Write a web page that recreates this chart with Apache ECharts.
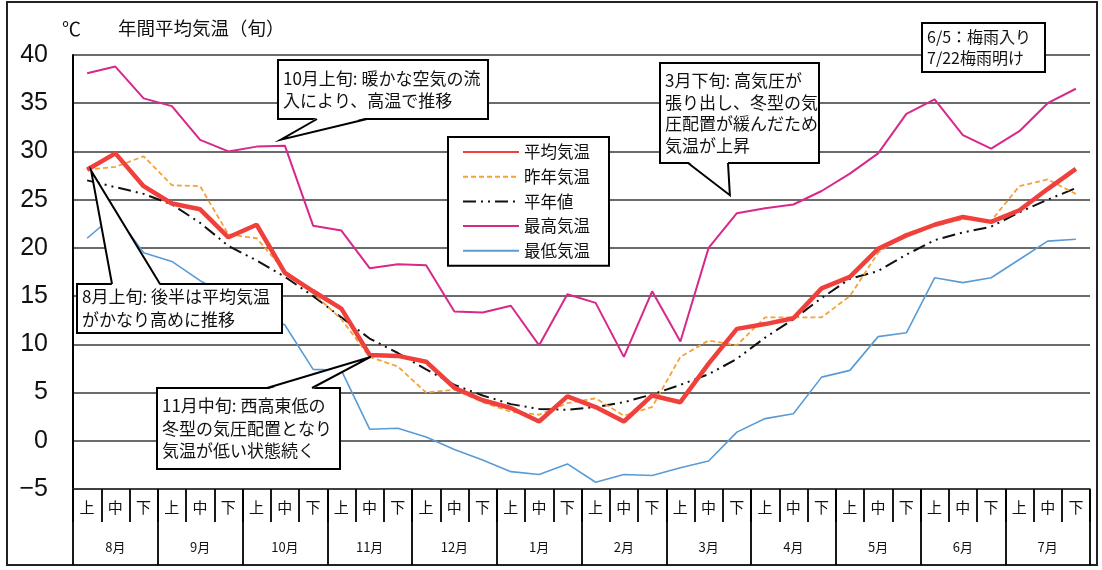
<!DOCTYPE html>
<html>
<head>
<meta charset="utf-8">
<script src="https://cdn.jsdelivr.net/npm/echarts@6/dist/echarts.min.js"></script>
<style>
  html, body { margin: 0; padding: 0; background: #fff; }
  #main { width: 1102px; height: 570px; }
</style>
</head>
<body>
<div id="main"></div>
<script>
// 旬ごとの気温 (8月上旬 〜 7月下旬)
var months = ['8月', '9月', '10月', '11月', '12月', '1月', '2月', '3月', '4月', '5月', '6月', '7月'];
var junLabels = ['上', '中', '下'];

var avgTemp = [28.1, 29.8, 26.4, 24.6, 24.0, 21.1, 22.4, 17.4, 15.5, 13.7, 8.9, 8.8,
  8.2, 5.5, 4.2, 3.4, 2.0, 4.6, 3.5, 2.0, 4.7, 4.0, 8.0, 11.6,
  12.1, 12.7, 15.8, 17.0, 19.9, 21.3, 22.4, 23.2, 22.7, 23.9, 26.1, 28.2];
var lastYear = [28.1, 28.4, 29.5, 26.5, 26.4, 21.4, 21.0, 17.6, 15.3, 12.6, 8.7, 7.7,
  5.0, 5.3, 4.0, 3.0, 2.7, 3.9, 4.4, 2.6, 3.5, 8.7, 10.4, 9.9,
  12.8, 12.8, 12.8, 15.0, 19.5, 21.5, 22.3, 23.0, 22.8, 26.4, 27.1, 25.6];
var normalTemp = [27.0, 26.3, 25.6, 24.5, 22.6, 20.2, 18.7, 17.0, 15.0, 12.8, 10.6, 9.1,
  7.4, 5.8, 4.7, 3.8, 3.3, 3.2, 3.5, 4.0, 4.8, 5.8, 6.9, 8.5,
  10.7, 12.6, 14.8, 16.8, 17.6, 19.3, 20.8, 21.6, 22.2, 23.7, 25.0, 26.2];
var maxTemp = [38.1, 38.8, 35.5, 34.7, 31.2, 30.0, 30.5, 30.6, 22.3, 21.8, 17.9, 18.3,
  18.2, 13.4, 13.3, 14.0, 9.9, 15.2, 14.3, 8.7, 15.5, 10.3, 20.0, 23.6,
  24.1, 24.5, 25.9, 27.7, 29.8, 33.9, 35.4, 31.7, 30.3, 32.1, 35.0, 36.5];
var minTemp = [21.0, 23.5, 19.5, 18.6, 16.6, 15.0, 13.5, 12.0, 7.4, 7.3, 1.2, 1.3,
  0.4, -0.9, -2.0, -3.2, -3.5, -2.4, -4.3, -3.5, -3.6, -2.8, -2.1, 0.9,
  2.3, 2.8, 6.6, 7.3, 10.8, 11.2, 16.9, 16.4, 16.9, 18.8, 20.7, 20.9];

var categories = [];
months.forEach(function (m) {
  junLabels.forEach(function (j) { categories.push(m + j) })
});

var jpFont = '"Noto Sans CJK JP", sans-serif';

var myChart = echarts.init(document.getElementById('main'));
var option = {
  backgroundColor: '#fff',
  animation: false,
  grid: { left: 73, right: 12, top: 55, bottom: 81 },
  legend: {
    orient: 'vertical',
    left: 448,
    top: 137,
    padding: [5, 19, 5, 14],
    itemGap: 4.7,
    itemWidth: 56,
    itemHeight: 10,
    borderColor: '#000',
    borderWidth: 2,
    borderRadius: 0,
    backgroundColor: '#fff',
    itemStyle: { opacity: 0 },
    textStyle: { fontFamily: jpFont, fontSize: 16.5, color: '#111', lineHeight: 20 },
    data: ['平均気温', '昨年気温', '平年値', '最高気温', '最低気温']
  },
  xAxis: [
    {
      type: 'category',
      data: categories,
      boundaryGap: true,
      axisLine: { show: true, onZero: false, lineStyle: { color: '#333', width: 1.5 } },
      axisTick: { show: true, interval: 0, length: 33, lineStyle: { color: '#000', width: 1.8 } },
      axisLabel: {
        interval: 0, margin: 11, fontSize: 15, color: '#111', fontFamily: jpFont,
        formatter: function (v) { return v.slice(-1) }
      }
    },
    {
      type: 'category',
      data: months,
      position: 'bottom',
      boundaryGap: true,
      axisLine: { show: false, onZero: false },
      axisTick: { show: true, interval: 0, length: 76, lineStyle: { color: '#000', width: 1.8 } },
      axisLabel: { interval: 0, margin: 52, fontSize: 13, color: '#111', fontFamily: jpFont }
    }
  ],
  yAxis: {
    type: 'value',
    min: -5,
    max: 40,
    interval: 5,
    axisLine: { show: true, lineStyle: { color: '#000', width: 2 } },
    axisTick: { show: false },
    axisLabel: {
      margin: 25, fontSize: 25, color: '#111', fontFamily: '"Liberation Sans", Arial, sans-serif',
      formatter: function (v) { return String(v).replace('-', '\u2212') }
    },
    splitLine: { show: true, lineStyle: { color: '#3a3a3a', width: 1.6 } }
  },
  series: [
    {
      name: '最高気温', type: 'line', data: maxTemp, symbol: 'none',
      lineStyle: { color: '#d8288a', width: 2 }, itemStyle: { color: '#d8288a' }
    },
    {
      name: '最低気温', type: 'line', data: minTemp, symbol: 'none',
      lineStyle: { color: '#5b9bd5', width: 1.6 }, itemStyle: { color: '#5b9bd5' }
    },
    {
      name: '平年値', type: 'line', data: normalTemp, symbol: 'none',
      lineStyle: { color: '#111', width: 2, type: [13, 5, 2, 5, 2, 5] }, itemStyle: { color: '#111' }
    },
    {
      name: '昨年気温', type: 'line', data: lastYear, symbol: 'none',
      lineStyle: { color: '#f4a23a', width: 1.8, type: [5, 3] }, itemStyle: { color: '#f4a23a' }
    },
    {
      name: '平均気温', type: 'line', data: avgTemp, symbol: 'none',
      lineStyle: { color: '#f0403c', width: 4.5 }, itemStyle: { color: '#f0403c' }
    }
  ]
};
myChart.setOption(option);

// 吹き出し (位置はピクセル, 先端はデータ点から計算)
function pt(i, v) {
  return myChart.convertToPixel({ xAxisIndex: 0, yAxisIndex: 0 }, [i, v]);
}

function callout(box, base, tip, text, fs, lh) {
  var out = [];
  out.push({
    type: 'rect', z: 100,
    shape: { x: box.x, y: box.y, width: box.w, height: box.h },
    style: { fill: '#fff', stroke: '#000', lineWidth: 2 }
  });
  if (base && tip) {
    var edgeY = base.side === 'top' ? box.y : box.y + box.h;
    var inY = base.side === 'top' ? edgeY + 1.5 : edgeY - 1.5;
    out.push({
      type: 'polygon', z: 101,
      shape: { points: [[base.x0, inY], tip, [base.x1, inY]] },
      style: { fill: '#fff' }
    });
    out.push({
      type: 'polyline', z: 102,
      shape: { points: [[base.x0, edgeY], tip, [base.x1, edgeY]] },
      style: { fill: null, stroke: '#000', lineWidth: 2 }
    });
  }
  out.push({
    type: 'text', z: 103, x: box.x + 5, y: box.y + (box.h - lh * text.split('\n').length) / 2,
    style: { text: text, fontSize: fs, lineHeight: lh, fontFamily: jpFont, fill: '#111' }
  });
  return out;
}

var p10 = pt(7, maxTemp[7]);
var p8 = pt(0, avgTemp[0]);
var p11 = pt(10, avgTemp[10]);
var p3 = pt(23, maxTemp[23]);

var graphics = [
  {
    type: 'rect', z: 0, silent: true,
    shape: { x: 7, y: 2, width: 1090, height: 563 },
    style: { fill: null, stroke: '#222', lineWidth: 2 }
  },
  { type: 'text', x: 62, y: 19, style: { text: '℃', fontSize: 19, fontFamily: jpFont, fill: '#111' } },
  { type: 'text', x: 118, y: 19, style: { text: '年間平均気温（旬）', fontSize: 18.5, fontFamily: jpFont, fill: '#111' } }
];

graphics = graphics.concat(
  callout({ x: 278, y: 60, w: 210, h: 59 }, { side: 'bottom', x0: 317, x1: 367 },
    [p10[0] - 4, p10[1] - 6], '10月上旬: 暖かな空気の流\n入により、高温で推移', 17, 22),
  callout({ x: 77, y: 284, w: 205, h: 49 }, { side: 'top', x0: 112, x1: 160 },
    [p8[0] + 4, p8[1] + 1], '8月上旬: 後半は平均気温\nがかなり高めに推移', 17, 23),
  callout({ x: 157, y: 388, w: 183, h: 81 }, { side: 'top', x0: 267, x1: 312 },
    [p11[0] + 1, p11[1] + 2], '11月中旬: 西高東低の\n冬型の気圧配置となり\n気温が低い状態続く', 17, 22.5),
  callout({ x: 660, y: 63, w: 159, h: 100 }, { side: 'bottom', x0: 688, x1: 728 },
    [p3[0] - 7, p3[1] - 18], '3月下旬: 高気圧が\n張り出し、冬型の気\n圧配置が緩んだため\n気温が上昇', 17, 21.5),
  callout({ x: 922, y: 23, w: 123, h: 49 }, null, null, '6/5：梅雨入り\n7/22梅雨明け', 16, 21)
);

myChart.setOption({ graphic: graphics });
</script>
</body>
</html>
